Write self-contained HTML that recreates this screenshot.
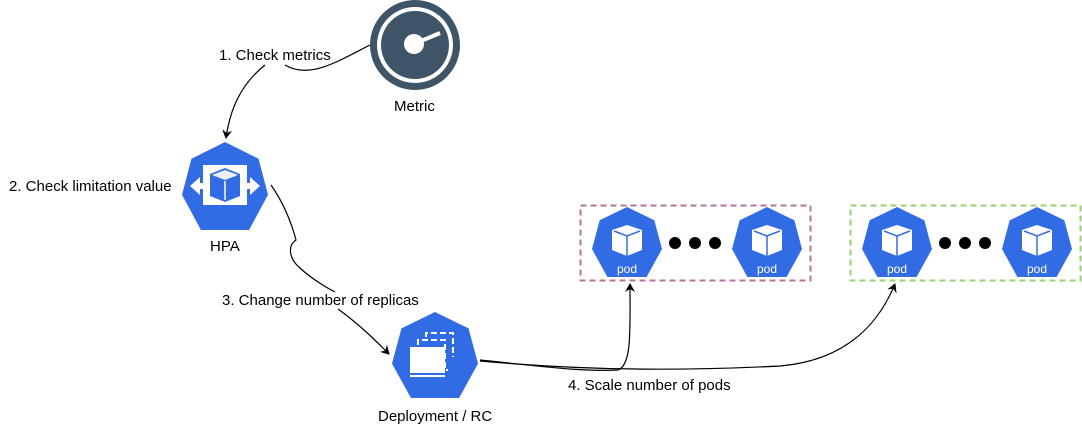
<!DOCTYPE html>
<html><head><style>
body{margin:0;background:#fff;}
svg text{font-family:"Liberation Sans",sans-serif;font-size:15px;fill:#000;}
</style></head><body>
<svg width="1082" height="425" viewBox="0 0 1082 425" xmlns="http://www.w3.org/2000/svg">
<defs>
<path id="hep" d="M0.5,0 L0.89,0.19 L1,0.6 L0.78,1 L0.22,1 L0,0.6 L0.11,0.19 Z"/>
<marker id="ar" markerWidth="10" markerHeight="10" refX="8" refY="5" orient="auto" markerUnits="userSpaceOnUse">
<path d="M0,0 L9,5 L0,10 L3,5 Z" fill="#000"/></marker>
</defs>

<!-- Metric -->
<circle cx="415" cy="45" r="45" fill="#3d5566"/>
<circle cx="415" cy="45" r="38" fill="#fff"/>
<circle cx="415" cy="45" r="34" fill="#3d5566"/>
<line x1="414" y1="44" x2="440" y2="33" stroke="#fff" stroke-width="4"/>
<circle cx="414" cy="44" r="10" fill="#fff"/>
<text x="394" y="111">Metric</text>

<!-- connectors -->
<path d="M370,45 C340,60 310,80 285,65" fill="none" stroke="#000" stroke-width="1.2"/>
<path d="M265,65 C240,85 230,110 226,138" fill="none" stroke="#000" stroke-width="1.2" marker-end="url(#ar)"/>
<text x="219" y="60">1. Check metrics</text>

<!-- HPA -->
<g transform="translate(182,142) scale(86,88)"><use href="#hep" fill="#326ce5"/></g>
<rect x="203" y="165" width="44" height="40" fill="#fff"/>
<path d="M190,186 L200,177 L200,195 Z M260,186 L250,177 L250,195 Z" fill="#fff"/>
<rect x="200" y="183" width="50" height="6" fill="#fff"/>
<path d="M225,168 L240,174 L240,196 L225,202 L210,196 L210,174 Z" fill="#326ce5"/>
<path d="M212,175 L225,170 L238,175 L225,180 Z" fill="#fff" opacity="0.9"/>
<line x1="225" y1="181" x2="225" y2="200" stroke="#fff" stroke-width="1.5"/>
<text x="210" y="251">HPA</text>
<text x="9" y="191">2. Check limitation value</text>

<path d="M271,185 C285,205 292,225 296,240 C288,245 288,258 300,268 C315,282 335,292 335,292" fill="none" stroke="#000" stroke-width="1.2"/>
<text x="222" y="305">3. Change number of replicas</text>
<path d="M338,309 C360,325 375,340 389,354" fill="none" stroke="#000" stroke-width="1.2" marker-end="url(#ar)"/>

<!-- Deployment -->
<g transform="translate(392,312) scale(86,86)"><use href="#hep" fill="#326ce5"/></g>
<rect x="410" y="347" width="35" height="26" fill="#fff"/>
<rect x="410" y="375" width="35" height="2" fill="#fff"/>
<path d="M418,345 V340 H445 V370 H448" fill="none" stroke="#fff" stroke-width="2" stroke-dasharray="6,3"/>
<path d="M426,337 V333 H453 V357" fill="none" stroke="#fff" stroke-width="2" stroke-dasharray="6,3"/>
<text x="378" y="421">Deployment / RC</text>

<path d="M480,360 C540,366 580,372 618,370 C632,365 630,330 630,284" fill="none" stroke="#000" stroke-width="1.2" marker-end="url(#ar)"/>
<path d="M480,361 C600,372 700,370 780,366 C850,360 880,320 895,284" fill="none" stroke="#000" stroke-width="1.2" marker-end="url(#ar)"/>
<text x="568" y="390">4. Scale number of pods</text>

<!-- pod boxes -->
<rect x="580.5" y="205.5" width="230" height="75" fill="none" stroke="#b5739d" stroke-width="2" stroke-dasharray="6,4"/>
<rect x="850.5" y="205.5" width="230" height="75" fill="none" stroke="#97d077" stroke-width="2" stroke-dasharray="6,4"/>

<g id="p1">
<g transform="translate(592,207) scale(70,70)"><use href="#hep" fill="#326ce5"/></g>
<path d="M627,225 L642,230 L642,250 L627,256 L612,250 L612,230 Z" fill="#fff"/>
<path d="M614,231 L627,236 L640,231" fill="none" stroke="#326ce5" stroke-width="1.5"/>
<line x1="627" y1="236" x2="627" y2="256" stroke="#326ce5" stroke-width="1.5"/>
<text x="627" y="273" text-anchor="middle" style="fill:#fff;font-size:12px">pod</text>
</g>
<use href="#p1" x="140"/>
<use href="#p1" x="270"/>
<use href="#p1" x="410"/>

<circle cx="675" cy="243" r="6" fill="#000"/><circle cx="695" cy="243" r="6" fill="#000"/><circle cx="715" cy="243" r="6" fill="#000"/>
<circle cx="945" cy="243" r="6" fill="#000"/><circle cx="965" cy="243" r="6" fill="#000"/><circle cx="985" cy="243" r="6" fill="#000"/>
</svg>
</body></html>
